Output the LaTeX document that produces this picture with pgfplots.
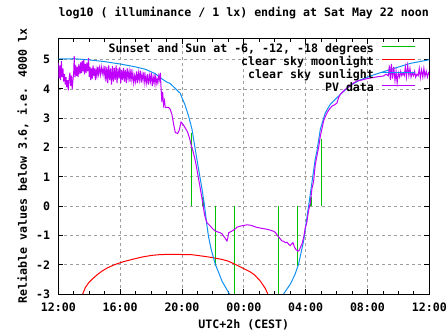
\documentclass[border=0pt]{standalone}
\usepackage{fontspec}
\setmainfont{DejaVu Sans Mono}
\usepackage{pgfplots}
\pgfplotsset{compat=1.18}
\definecolor{gpgreen}{HTML}{00C000}
\definecolor{gpred}{HTML}{FF0000}
\definecolor{gpblue}{HTML}{1090F0}
\definecolor{gppurple}{HTML}{BF00FF}
\newcommand\gf{\fontsize{11.6bp}{13bp}\selectfont\bfseries}
\pgfplotstableread{
h v
0.00 4.90
0.05 4.35
0.10 4.80
0.15 4.30
0.20 4.95
0.25 4.40
0.30 4.70
0.35 4.25
0.40 4.50
0.45 4.15
0.50 4.40
0.55 4.05
0.60 4.30
0.65 3.95
0.70 4.35
0.75 4.55
0.80 4.10
0.85 4.45
0.90 4.00
0.95 4.30
1.00 4.60
1.03 5.12
1.08 4.40
1.13 4.80
1.18 4.45
1.23 4.75
1.28 4.40
1.33 4.85
1.40 4.50
1.45 4.90
1.50 4.55
1.55 4.95
1.60 4.60
1.65 5.00
1.70 4.50
1.75 4.85
1.80 4.55
1.85 4.90
1.90 4.60
1.96 5.05
2.00 4.40
2.05 4.75
2.10 4.30
2.15 4.70
2.20 4.35
2.25 4.80
2.30 4.45
2.35 4.70
2.40 4.30
2.45 4.65
2.50 4.45
2.55 4.75
2.60 4.50
2.66 4.72
2.72 4.48
2.78 4.75
2.84 4.52
2.90 4.70
2.96 4.45
3.02 4.78
3.08 4.25
3.14 4.75
3.20 4.20
3.26 4.80
3.32 4.30
3.38 4.70
3.44 4.15
3.50 4.78
3.56 4.25
3.62 4.72
3.68 4.30
3.74 4.80
3.80 4.20
3.86 4.70
3.92 4.35
3.98 4.75
4.04 4.20
4.10 4.65
4.16 4.30
4.22 4.72
4.28 4.25
4.34 4.65
4.40 4.20
4.46 4.70
4.52 4.35
4.58 4.60
4.64 4.25
4.70 4.68
4.76 4.30
4.82 4.55
4.88 4.20
4.94 4.45
5.00 4.25
5.06 4.60
5.12 4.20
5.18 4.55
5.24 4.30
5.30 4.62
5.36 4.22
5.42 4.50
5.48 4.28
5.54 4.58
5.60 4.20
5.66 4.45
5.72 4.20
5.78 4.50
5.84 4.15
5.90 4.45
5.96 4.25
6.02 4.55
6.08 4.10
6.14 4.40
6.20 4.20
6.26 4.50
6.32 4.15
6.38 4.35
6.44 4.20
6.50 4.45
6.56 4.30
6.60 4.55
6.65 4.00
6.70 3.55
6.75 3.90
6.81 3.45
6.87 3.60
6.92 3.36
7.03 3.37
7.15 3.36
7.24 3.30
7.35 3.13
7.46 2.79
7.57 2.51
7.72 2.48
7.83 2.60
7.94 2.87
8.07 2.79
8.21 2.67
8.37 2.52
8.50 2.30
8.60 2.07
8.71 1.88
8.82 1.65
8.93 1.37
9.04 1.03
9.14 0.74
9.25 0.40
9.36 0.06
9.44 -0.23
9.51 -0.40
9.62 -0.57
9.83 -0.68
10.00 -0.78
10.16 -0.85
10.30 -0.88
10.48 -0.91
10.60 -0.95
10.69 -1.02
10.80 -1.10
10.91 -1.19
10.96 -1.10
11.02 -0.91
11.13 -0.88
11.23 -0.85
11.45 -0.78
11.56 -0.72
11.80 -0.68
12.00 -0.66
12.20 -0.64
12.42 -0.65
12.60 -0.68
12.80 -0.72
13.07 -0.75
13.30 -0.77
13.50 -0.79
13.71 -0.82
13.93 -0.86
14.04 -0.90
14.15 -0.98
14.25 -1.05
14.36 -1.12
14.47 -1.19
14.58 -1.20
14.68 -1.25
14.79 -1.23
14.90 -1.30
15.00 -1.35
15.08 -1.30
15.18 -1.25
15.28 -1.40
15.37 -1.48
15.50 -1.54
15.60 -1.50
15.65 -1.42
15.76 -1.30
15.87 -1.08
15.98 -0.74
16.08 -0.55
16.19 -0.15
16.30 0.10
16.41 0.60
16.51 0.82
16.62 1.40
16.73 1.71
16.84 2.00
16.95 2.39
17.06 2.65
17.16 2.90
17.27 3.05
17.38 3.18
17.50 3.28
17.70 3.41
17.85 3.45
18.03 3.52
18.13 3.70
18.24 3.81
18.40 3.90
18.56 3.98
18.72 4.05
18.89 4.10
19.10 4.20
19.32 4.27
19.60 4.30
19.97 4.35
20.30 4.38
20.61 4.41
21.04 4.44
21.20 4.50
21.35 4.45
21.42 4.80
21.48 4.30
21.55 4.85
21.62 4.35
21.70 4.75
21.78 4.28
21.85 4.60
21.92 4.20
22.00 4.55
22.08 4.40
22.15 4.60
22.22 4.45
22.30 4.55
22.38 4.45
22.45 4.75
22.52 4.40
22.60 4.80
22.68 4.45
22.75 4.70
22.82 4.40
22.90 4.55
22.98 4.45
23.05 4.60
23.12 4.40
23.20 4.50
23.28 4.45
23.35 4.70
23.42 4.38
23.50 4.65
23.58 4.40
23.65 4.70
23.72 4.42
23.80 4.60
23.88 4.40
23.95 4.55
24.00 4.50
}\pvdata
\begin{document}
\begin{tikzpicture}
\useasboundingbox (-58.3bp,-41bp) rectangle (388.7bp,294bp);
\begin{axis}[
  scale only axis, width=371bp, height=255.5bp,
  xmin=0, xmax=24, ymin=-3, ymax=5.72,
  xtick={0,4,...,24},
  xticklabels={12:00,16:00,20:00,00:00,04:00,08:00,12:00},
  minor x tick num=3,
  ytick={-3,-2,-1,0,1,2,3,4,5},
  yticklabels={-3,-2,-1,0,1,2,3,4,5},
  tick align=inside, major tick length=5bp, minor tick length=3bp,
  grid=major,
  major grid style={draw=black!38, dash pattern=on 3bp off 3bp, line width=0.7bp},
  axis line style={line width=0.8bp},
  every tick/.style={black, line width=0.8bp},
  ticklabel style={font=\gf},
  xticklabel style={anchor=center, yshift=-13bp, inner sep=0pt},
  yticklabel style={anchor=east, xshift=-8bp, inner sep=0pt},
  title={log10 ( illuminance / 1 lx) ending at Sat May 22 noon},
  title style={font=\gf, at={(axis description cs:0.5,1.0763)}, anchor=center, inner sep=0pt},
  xlabel={UTC+2h (CEST)},
  xlabel style={font=\gf, at={(axis description cs:0.5,-0.1213)}, anchor=center, inner sep=0pt},
  ylabel={Reliable values below 3.6, i.e. 4000 lx},
  ylabel style={font=\gf, at={(axis description cs:-0.0951,0.5)}, anchor=center, inner sep=0pt},
  legend style={at={(axis description cs:0.964,0.980)}, anchor=north east, draw=none, fill=none,
    font=\gf, inner sep=0pt, outer sep=0pt, row sep=0pt, column sep=8bp,
    nodes={inner sep=0pt, text height=9bp, text depth=4bp}},
  legend cell align=right, legend plot pos=right,
  legend image code/.code={\draw[#1, line width=1bp] (0bp,3.5bp) -- (33bp,3.5bp);},
  unbounded coords=jump,
]
\addplot[gpgreen, line width=1.2bp] coordinates {
 (8.62,0) (8.62,2.5) (8.62,nan)
 (9.36,0) (9.36,0.3) (9.36,nan)
 (10.17,0) (10.17,-2.03) (10.17,nan)
 (11.40,0) (11.40,-3.3) (11.40,nan)
 (14.26,0) (14.26,-3.3) (14.26,nan)
 (15.49,0) (15.49,-2.03) (15.49,nan)
 (16.35,0) (16.35,0.3) (16.35,nan)
 (17.03,0) (17.03,2.3)
};
\addlegendentry{Sunset and Sun at -6, -12, -18 degrees}
\addplot[gpred, line width=1bp] coordinates {
 (1.45,-3.3) (1.57,-3.01) (1.75,-2.78) (1.96,-2.62) (2.18,-2.5) (2.5,-2.35) (2.82,-2.22)
 (3.2,-2.1) (3.69,-1.99) (4.2,-1.9) (4.77,-1.82) (5.4,-1.74) (6.06,-1.68) (6.5,-1.66)
 (6.92,-1.65) (7.8,-1.65) (8.65,-1.66) (9.1,-1.69) (9.51,-1.72) (10.0,-1.76) (10.59,-1.82)
 (11.0,-1.88) (11.45,-1.99) (11.8,-2.08) (12.1,-2.16) (12.4,-2.24) (12.7,-2.35)
 (13.07,-2.56) (13.25,-2.7) (13.39,-2.81) (13.56,-3.01) (13.7,-3.25)
};
\addlegendentry{clear sky moonlight}
\addplot[gpblue, line width=1bp] coordinates {
 (0,5.02) (1,5.03) (2,4.99) (3,4.93) (4.12,4.84) (5,4.75) (5.63,4.67) (6.27,4.52)
 (6.6,4.38) (7.0,4.24) (7.24,4.18) (7.6,4.0) (7.89,3.85) (8.0,3.7) (8.2,3.45)
 (8.43,3.07) (8.65,2.62) (8.86,1.93) (9.08,1.25) (9.3,0.57) (9.45,0.05) (9.6,-0.6)
 (9.72,-1.05) (9.9,-1.5) (10.16,-1.99) (10.4,-2.3) (10.59,-2.56) (10.85,-2.8)
 (11.08,-3.01) (11.2,-3.2) (11.2,nan)
 (14.45,-3.2) (14.57,-3.0) (15.0,-2.67) (15.3,-2.35) (15.54,-1.99) (15.7,-1.6)
 (15.87,-1.19) (16.08,-0.4) (16.3,0.4) (16.51,1.19) (16.62,1.6) (16.73,1.88)
 (16.95,2.62) (17.27,3.18) (17.59,3.47) (18.24,3.81) (18.89,4.12) (19.5,4.3)
 (20.18,4.44) (21.47,4.66) (22.77,4.87) (23.85,4.98) (24,5.0)
};
\addlegendentry{clear sky sunlight}
\addplot[gppurple, line width=1bp] table[x=h, y=v] {\pvdata};
\addlegendentry{PV data}
\end{axis}
\end{tikzpicture}
\end{document}
